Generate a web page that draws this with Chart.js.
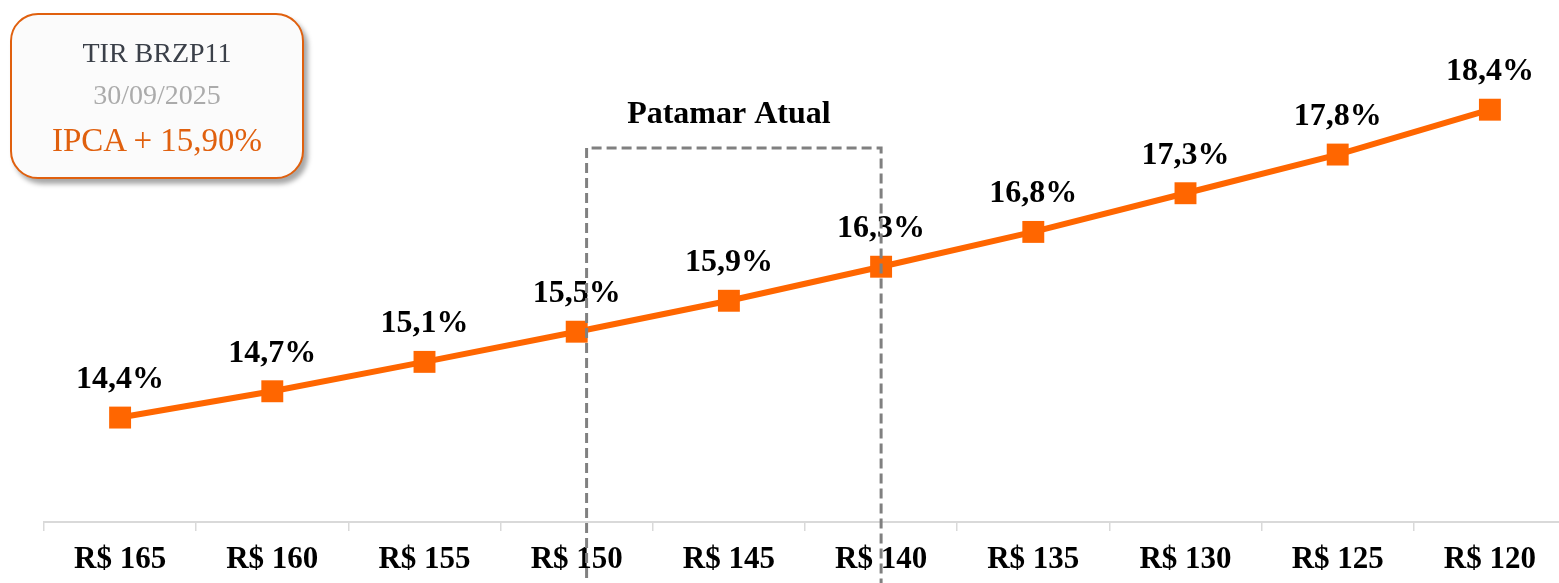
<!DOCTYPE html>
<html lang="pt-BR">
<head>
<meta charset="utf-8">
<title>TIR BRZP11</title>
<script src="https://cdn.jsdelivr.net/npm/chart.js@4/dist/chart.umd.min.js"></script>
<style>
  html, body { margin: 0; padding: 0; background: #fff; overflow: hidden; }
  #tirChart { position: absolute; left: 0; top: 0; }
  .info {
    position: absolute; left: 10px; top: 13px; width: 290px; height: 162px;
    border: 2.5px solid #e0600e; border-radius: 28px; background: #fbfbfb;
    box-shadow: 4px 5px 5px rgba(0, 0, 0, 0.35);
    font-family: "Liberation Serif", serif; text-align: center;
  }
  .info div { position: absolute; left: 0; right: 0; white-space: nowrap; }
  .l1 { top: 18px; height: 40px; line-height: 40px; font-size: 28px; color: #3b4049; }
  .l2 { top: 63px; height: 34px; line-height: 34px; font-size: 28px; color: #ababab; }
  .l3 { top: 105px; height: 40px; line-height: 40px; font-size: 33px; color: #e0600e; }
</style>
</head>
<body>
<canvas id="tirChart" width="1570" height="583"></canvas>
<div class="info">
  <div class="l1">TIR BRZP11</div>
  <div class="l2">30/09/2025</div>
  <div class="l3">IPCA + 15,90%</div>
</div>
<script>
// preço da cota x TIR (%)
const categories = ['R$ 165', 'R$ 160', 'R$ 155', 'R$ 150', 'R$ 145', 'R$ 140', 'R$ 135', 'R$ 130', 'R$ 125', 'R$ 120']
const tirValues = [14.38, 14.72, 15.10, 15.49, 15.89, 16.33, 16.78, 17.28, 17.78, 18.36]
const patamarTitle = 'Patamar Atual'
const patamarRange = [3.065, 5]   // faixa do patamar atual (índices das categorias)

const labelFont = 'bold 32px "Liberation Serif", serif'

// rótulos de valor acima dos pontos
const valueLabels = {
  id: 'valueLabels',
  afterDatasetsDraw(chart) {
    const ctx = chart.ctx
    const meta = chart.getDatasetMeta(0)
    ctx.save()
    ctx.font = labelFont
    ctx.fillStyle = '#000'
    ctx.textAlign = 'center'
    ctx.textBaseline = 'middle'
    meta.data.forEach((pt, i) => {
      ctx.fillText(tirValues[i].toFixed(1).replace('.', ',') + '%', pt.x, pt.y - 38)
    })
    ctx.restore()
  }
}

// caixa tracejada do patamar atual
const patamarBox = {
  id: 'patamarBox',
  afterDraw(chart) {
    const ctx = chart.ctx
    const x = chart.scales.x
    const x1 = x.getPixelForValue(patamarRange[0])
    const x2 = x.getPixelForValue(patamarRange[1])
    const top = 148
    ctx.save()
    ctx.strokeStyle = '#808080'
    ctx.lineWidth = 3
    ctx.setLineDash([10, 5])
    ctx.beginPath()
    ctx.moveTo(x1, chart.height + 10)
    ctx.lineTo(x1, top)
    ctx.lineTo(x2, top)
    ctx.lineTo(x2, chart.height + 10)
    ctx.stroke()
    ctx.setLineDash([])
    ctx.font = 'bold 32px "Liberation Serif", serif'
    ctx.fillStyle = '#000'
    ctx.textAlign = 'center'
    ctx.textBaseline = 'middle'
    ctx.fillText(patamarTitle, x.getPixelForValue(4), 115)
    ctx.restore()
  }
}

new Chart(document.getElementById('tirChart'), {
  type: 'line',
  data: {
    labels: categories,
    datasets: [{
      data: tirValues,
      borderColor: '#ff6600',
      backgroundColor: '#ff6600',
      borderWidth: 6,
      pointStyle: 'rect',
      pointRadius: 15.5,
      pointHoverRadius: 15.5,
      pointBorderWidth: 0,
      tension: 0,
      clip: false
    }]
  },
  options: {
    responsive: false,
    animation: false,
    layout: { autoPadding: false, padding: { left: 44, right: 4, top: 13, bottom: 0 } },
    plugins: {
      legend: { display: false },
      tooltip: { enabled: false }
    },
    scales: {
      x: {
        offset: true,
        afterFit: (scale) => {
          scale.height = 61
          scale.paddingLeft = 0
          scale.paddingRight = 0
        },
        grid: {
          offset: true,
          drawOnChartArea: false,
          tickLength: 9,
          color: '#d9d9d9',
          lineWidth: 1.5
        },
        border: { color: '#d9d9d9', width: 2 },
        ticks: {
          color: '#000',
          font: { family: '"Liberation Serif", serif', size: 31, weight: 'bold' },
          padding: 10,
          maxRotation: 0,
          autoSkip: false
        }
      },
      y: {
        display: false,
        min: 13.03,
        max: 19.61
      }
    }
  },
  plugins: [valueLabels, patamarBox]
})
</script>
</body>
</html>
